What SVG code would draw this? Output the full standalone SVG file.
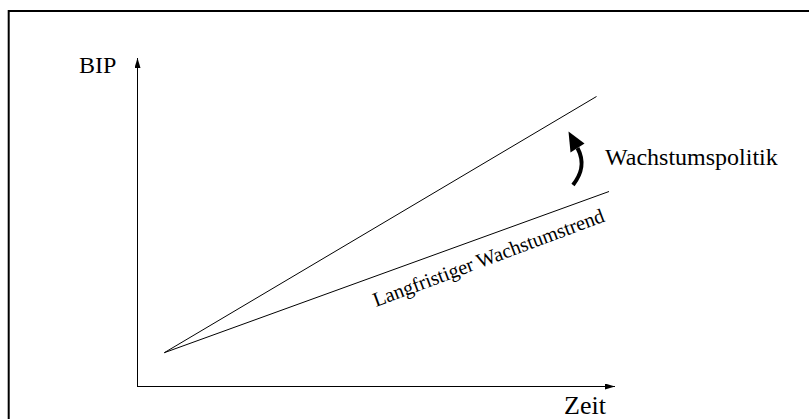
<svg xmlns="http://www.w3.org/2000/svg" width="809" height="419" viewBox="0 0 809 419">
<style>
.t{font-family:"Liberation Serif","Times New Roman",serif;fill:#000}
.ax{stroke:#000;stroke-width:1;fill:none}
.ln{stroke:#000;stroke-width:1;fill:none}
</style>
<defs>
<marker id="ah" viewBox="0 0 10 6" refX="10" refY="3" markerWidth="10" markerHeight="6" markerUnits="userSpaceOnUse" orient="auto">
<path d="M0,0 L10,3 L0,6 Z" fill="#000"/>
</marker>
</defs>
<rect width="809" height="419" fill="#fff"/>
<rect id="frame" x="8.7" y="11" width="820" height="420" fill="none" stroke="#000" stroke-width="2"/>
<g id="connectors">
<line class="ax" x1="137.5" y1="387" x2="137.5" y2="58" marker-end="url(#ah)"/>
<line class="ax" x1="137" y1="386.5" x2="615" y2="386.5" marker-end="url(#ah)"/>
<line class="ln" x1="164.3" y1="352.7" x2="596.5" y2="96.5"/>
<line class="ln" x1="164.3" y1="352.7" x2="609" y2="191.5"/>
<path d="M573 185 C580 176,586 164,577.5 148" stroke="#000" stroke-width="4" fill="none"/>
<polygon points="568.5,131.5 570.5,152.5 584.5,143.5" fill="#000"/>
</g>
<g id="bip"><text class="t" x="79" y="72.5" font-size="24">BIP</text></g>
<g id="zeit"><text class="t" x="564" y="414" font-size="26">Zeit</text></g>
<g id="wachstumspolitik"><text class="t" x="605" y="165" font-size="24">Wachstumspolitik</text></g>
<g id="trend"><text class="t" x="376" y="307" font-size="20.3" transform="rotate(-20.5 376 307)">Langfristiger Wachstumstrend</text></g>
</svg>
